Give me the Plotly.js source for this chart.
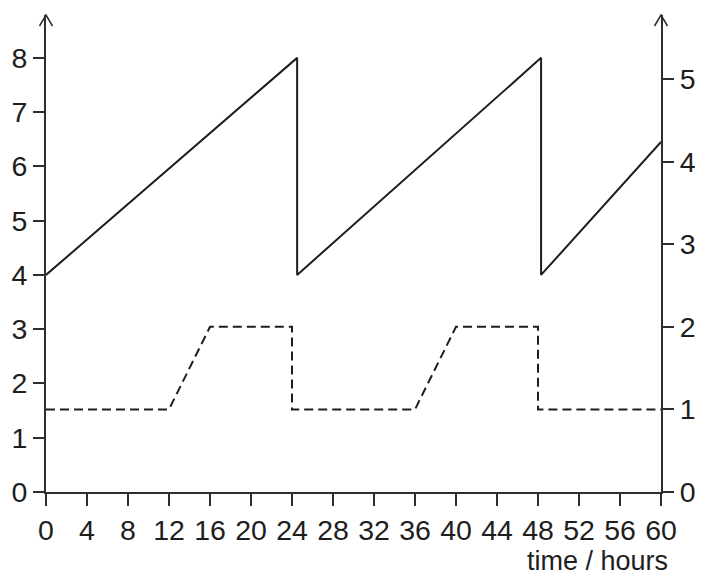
<!DOCTYPE html>
<html>
<head>
<meta charset="utf-8">
<script src="https://cdn.plot.ly/plotly-3.0.1.min.js"></script>
<style>
  html, body { margin: 0; padding: 0; background: #fff; }
  #chart { width: 702px; height: 578px; }
</style>
</head>
<body>
<div id="chart"></div>
<script>
// solid sawtooth, read against the left axis
const solidHours = [0, 24.5, 24.5, 48.3, 48.3, 60];
const solidValues = [4, 8, 4, 8, 4, 6.45];

// dashed steps, read against the right axis
const dashedHours = [0, 12, 16, 24, 24, 36, 40, 48, 48, 60];
const dashedValues = [1, 1, 2, 2, 1, 1, 2, 2, 1, 1];

const hourTicks = [0, 4, 8, 12, 16, 20, 24, 28, 32, 36, 40, 44, 48, 52, 56, 60];
const leftTicks = [0, 1, 2, 3, 4, 5, 6, 7, 8];
const rightTicks = [0, 1, 2, 3, 4, 5];

const ink = '#1e1e1e';
const axisInk = '#2e2e2e';
const font = { family: 'Liberation Sans, Arial, sans-serif', size: 28.5, color: ink };

const data = [
  {
    x: solidHours, y: solidValues, yaxis: 'y',
    mode: 'lines', type: 'scatter',
    line: { color: ink, width: 2 },
    hoverinfo: 'skip'
  },
  {
    x: dashedHours, y: dashedValues, yaxis: 'y2',
    mode: 'lines', type: 'scatter',
    line: { color: ink, width: 2, dash: '9px,5px' },
    hoverinfo: 'skip'
  }
];

const axisCommon = {
  showgrid: false, zeroline: false,
  showline: true, linecolor: axisInk, linewidth: 2,
  ticks: 'outside', tickcolor: axisInk, tickwidth: 2,
  tickfont: font, fixedrange: true
};

// open "V" arrow tip on top of each vertical axis
function axisArrow(xPos) {
  return {
    type: 'path', xref: 'paper', yref: 'paper',
    xsizemode: 'pixel', ysizemode: 'pixel',
    xanchor: xPos, yanchor: 1,
    path: 'M-6.5,-11 L0,0 L6.5,-11',
    line: { color: axisInk, width: 1.5 }
  };
}

const layout = {
  width: 702, height: 578,
  margin: { l: 46, r: 41, t: 15, b: 86 },
  paper_bgcolor: '#fff', plot_bgcolor: '#fff',
  showlegend: false,
  font: font,
  xaxis: Object.assign({}, axisCommon, {
    range: [0, 60], tickvals: hourTicks, ticklen: 12,
    ticklabelstandoff: 0
  }),
  yaxis: Object.assign({}, axisCommon, {
    range: [0, 8.79], tickvals: leftTicks, ticklen: 11,
    ticklabelstandoff: 0
  }),
  yaxis2: Object.assign({}, axisCommon, {
    range: [0, 5.775], tickvals: rightTicks, ticklen: 11,
    overlaying: 'y', side: 'right', ticklabelstandoff: 0
  }),
  shapes: [axisArrow(0), axisArrow(1)],
  annotations: [
    {
      xref: 'paper', yref: 'paper', x: 1, y: 0,
      xanchor: 'right', yanchor: 'top', xshift: 9, yshift: -52,
      text: 'time / hours', showarrow: false,
      font: Object.assign({}, font, { size: 27 })
    }
  ]
};

Plotly.newPlot('chart', data, layout, { displayModeBar: false, staticPlot: true });
</script>
</body>
</html>
